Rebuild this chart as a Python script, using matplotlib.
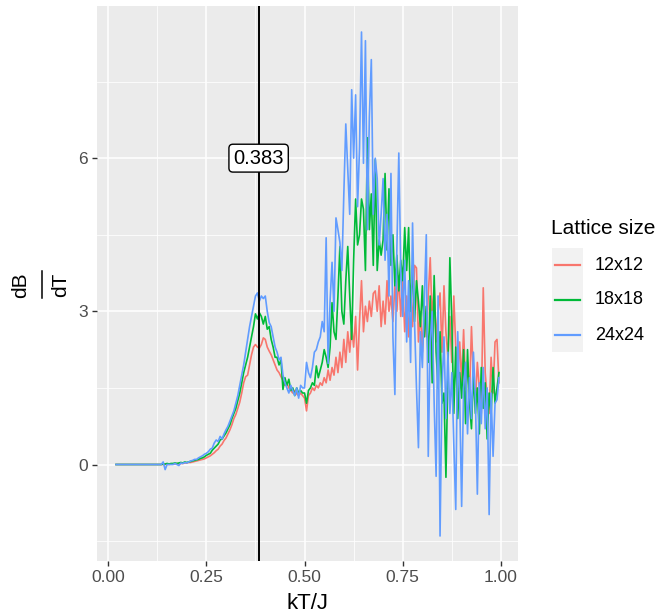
import numpy as np
import matplotlib.pyplot as plt
from matplotlib.lines import Line2D
from matplotlib.patches import Rectangle

plt.rcParams['font.family'] = ['Liberation Sans', 'DejaVu Sans']

# temperature grid kT/J, step 0.005
kt = np.round(np.arange(0.02, 0.9951, 0.005), 3)

# dB/dT for each lattice size
lat12 = [0.0]*16 + [
    0, 0, 0, 0, 0, 0, 0, 0, 0, 0, 0.01, 0, 0.01, 0.01, 0.01, 0.02, 0.01, 0.02, 0.02, 0.03,
    0.03, 0.04, 0.04, 0.05, 0.06, 0.07, 0.08, 0.09, 0.1, 0.11, 0.13, 0.15, 0.17, 0.2, 0.23, 0.27, 0.3, 0.36, 0.4, 0.47,
    0.52, 0.6, 0.68, 0.78, 0.9, 0.98, 1.1, 1.22, 1.4, 1.6, 1.72, 1.75, 1.95, 2.15, 2.3, 2.35, 2.3, 2.28, 2.35, 2.48,
    2.45, 2.3, 2.22, 2.15, 2.05, 1.95, 1.85, 1.8, 1.72, 1.65, 1.55, 1.6, 1.5, 1.45, 1.4, 1.45, 1.38, 1.35, 1.4, 1.35,
    1.3, 1.05, 1.35, 1.4, 1.5, 1.45, 1.55, 1.5, 1.6, 1.55, 1.7, 1.6, 1.85, 1.65, 1.9, 1.75, 2.1, 1.8, 2.2, 1.9,
    2.45, 2.0, 2.6, 2.2, 2.7, 2.3, 2.9, 1.85, 2.8, 3.6, 2.6, 3.1, 2.8, 3.2, 2.9, 3.35, 3.4, 3.0, 3.5, 2.7,
    3.2, 2.75, 3.6, 3.0, 3.3, 2.8, 3.5, 3.0, 3.7, 2.9, 3.6, 2.6, 3.3, 2.5, 3.4, 2.7, 3.9, 3.85, 2.4, 3.0,
    2.2, 3.1, 2.5, 3.3, 4.05, 2.8, 3.5, 2.4, 3.0, 3.36, 2.2, 3.5, 2.6, 2.1, 2.9, 2.0, 3.3, 2.3, 1.7, 2.4,
    1.6, 2.64, 1.5, 2.0, 1.3, 2.7, 1.7, 1.2, 2.0, 1.5, 1.0, 3.46, 1.8, 1.3, 1.0, 2.1, 1.4, 2.4, 2.45, 1.6]

lat18 = [0.0]*16 + [
    0, 0, 0, 0, 0, 0, 0, 0, 0.01, 0.01, 0.02, 0.01, 0.02, 0.02, 0.03, 0.02, 0.03, 0.04, 0.03, 0.05,
    0.04, 0.05, 0.06, 0.07, 0.08, 0.09, 0.1, 0.12, 0.13, 0.15, 0.18, 0.2, 0.22, 0.28, 0.32, 0.36, 0.4, 0.48, 0.5, 0.56,
    0.62, 0.7, 0.78, 0.9, 1.0, 1.1, 1.25, 1.4, 1.6, 1.8, 1.95, 2.1, 2.3, 2.5, 2.7, 2.95, 2.85, 2.97, 2.9, 2.75,
    2.9, 2.65, 2.7, 2.45, 2.3, 2.1, 2.1, 1.95, 2.05, 1.47, 1.7, 1.55, 1.67, 1.45, 1.5, 1.35, 1.5, 1.4, 1.45, 1.4,
    1.4, 1.2, 1.45, 1.5, 1.6, 1.55, 1.93, 1.7, 1.85, 2.0, 2.25, 2.1, 1.9, 2.3, 3.17, 2.6, 2.45, 3.3, 4.27, 3.0,
    2.75, 3.6, 4.27, 3.3, 2.45, 4.0, 5.2, 4.3, 4.5, 5.2, 5.0, 3.8, 6.4, 4.6, 5.3, 3.9, 5.97, 3.8, 4.4, 4.1,
    4.4, 5.7, 4.2, 5.4, 3.9, 4.5, 3.5, 4.1, 3.4, 4.0, 3.6, 4.64, 3.8, 4.64, 3.0, 3.9, 2.8, 3.6, 3.2, 2.7,
    3.5, 2.5, 3.1, 2.0, 3.3, 1.6, 3.7, 2.2, 1.5, 2.6, 1.2, 1.4, -0.25, 1.8, 4.05, 2.8, 1.0, 2.3, 0.9, 1.8,
    1.3, 2.25, 0.8, 2.25, 1.2, 0.7, 1.8, 1.0, 1.5, 0.6, 1.9, 1.1, 1.6, 0.5, 1.4, 1.0, 1.9, 1.2, 1.5, 1.8]

lat24 = [0.0]*16 + [
    0, 0, 0, 0, 0, 0, 0, 0, 0.05, -0.1, 0.0, 0.0, 0.0, 0.0, 0.02, 0.0, -0.02, 0.03, 0.02, 0.04,
    0.03, 0.05, 0.07, 0.08, 0.1, 0.1, 0.13, 0.15, 0.17, 0.2, 0.22, 0.25, 0.3, 0.32, 0.42, 0.48, 0.45, 0.55, 0.5, 0.6,
    0.68, 0.75, 0.85, 0.95, 1.05, 1.2, 1.35, 1.55, 1.75, 1.95, 2.2, 2.45, 2.7, 2.9, 3.1, 3.3, 3.36, 3.2, 3.3, 3.25,
    3.3, 3.0, 2.78, 2.7, 2.5, 2.3, 2.2, 2.05, 2.1, 1.75, 1.6, 1.5, 1.4, 1.55, 1.45, 1.35, 1.5, 1.3, 1.55, 1.5,
    1.5, 2.0, 1.8, 1.7, 1.9, 2.2, 2.25, 2.4, 2.5, 2.8, 2.6, 4.44, 1.98, 3.2, 3.96, 3.0, 4.83, 4.6, 4.35, 3.8,
    5.3, 6.67, 5.77, 4.9, 7.34, 6.0, 7.24, 5.05, 6.2, 8.47, 5.9, 8.3, 4.6, 6.8, 7.93, 4.9, 6.0, 5.6, 4.3, 4.9,
    5.6, 4.0, 4.9, 3.3, 5.7, 2.5, 1.37, 4.2, 6.1, 3.8, 2.9, 4.0, 2.4, 3.6, 2.0, 4.73, 2.8, 1.5, 0.33, 2.6,
    1.9, 3.2, 4.5, 0.16, 2.4, 3.0, 1.2, -0.23, 3.3, -1.4, 1.5, 2.5, 0.9, 2.2, 1.0, 1.8, 0.4, -0.88, 2.6, 1.3,
    -0.82, 1.5, 2.0, 0.6, 1.7, 0.9, 2.2, 1.3, -0.58, 1.6, 0.8, 1.9, 0.7, 1.5, -0.98, 1.4, 0.16, 1.2, 1.27, 1.7]

sizes = ['12x12', '18x18', '24x24']
colors = ['#F8766D', '#00BA38', '#619CFF']
tc = 0.383

W, H = 657, 614
fig = plt.figure(figsize=(W/100, H/100), dpi=100)
ax = fig.add_axes([97/W, 1-561/H, (518-97)/W, (561-6)/H])
ax.set_facecolor('#EBEBEB')
for s in ax.spines.values():
    s.set_visible(False)

for y, c in zip([lat12, lat18, lat24], colors):
    ax.plot(kt, y, color=c, lw=1.2, zorder=3)

ax.axvline(tc, color='black', lw=1.4, zorder=4)
ax.text(tc, 6, f'{tc}', ha='center', va='center', fontsize=14.5, zorder=5,
        bbox=dict(boxstyle='round,pad=0.22,rounding_size=0.2', fc='white', ec='black', lw=1.0))

ax.set_xlim(-0.0285, 1.0435)
ax.set_ylim(-1.89, 8.98)
ax.set_xticks([0, 0.25, 0.5, 0.75, 1.0])
ax.set_xticklabels(['0.00', '0.25', '0.50', '0.75', '1.00'])
ax.set_yticks([0, 3, 6])
ax.set_xticks([0.125, 0.375, 0.625, 0.875], minor=True)
ax.set_yticks([-1.5, 1.5, 4.5, 7.5], minor=True)
ax.grid(True, which='major', color='white', lw=1.1, zorder=0)
ax.grid(True, which='minor', color='white', lw=0.55, zorder=0)
ax.set_axisbelow(True)
ax.tick_params(which='major', length=3.5, width=1.0, color='#333333', labelcolor='#4D4D4D', labelsize=12.5, pad=3)
ax.tick_params(which='minor', length=0)

ax.set_xlabel('kT/J', fontsize=16, labelpad=6)

# y label as a sideways fraction dB / dT
fig.text(21/W, 1-285/H, 'dB', rotation=90, fontsize=15, ha='center', va='center')
fig.lines.append(Line2D([42/W, 42/W], [1-271/H, 1-298/H], color='black', lw=1.1,
                        transform=fig.transFigure, figure=fig))
fig.text(61/W, 1-285/H, 'dT', rotation=90, fontsize=15, ha='center', va='center')

# legend drawn by hand on the figure
fig.text(551/W, 1-229/H, 'Lattice size', fontsize=15, ha='left', va='center')
fig.patches.append(Rectangle((552/W, 1-352/H), 31/W, 104/H, transform=fig.transFigure,
                             fc='#F2F2F2', ec='none', figure=fig))
for i, (lab, c) in enumerate(zip(sizes, colors)):
    yy = 1 - (265 + 35*i)/H
    fig.lines.append(Line2D([555/W, 580/W], [yy, yy], color=c, lw=1.6, transform=fig.transFigure, figure=fig))
    fig.text(595/W, yy, lab, fontsize=13, ha='left', va='center')

fig.savefig('out.png', dpi=100)
